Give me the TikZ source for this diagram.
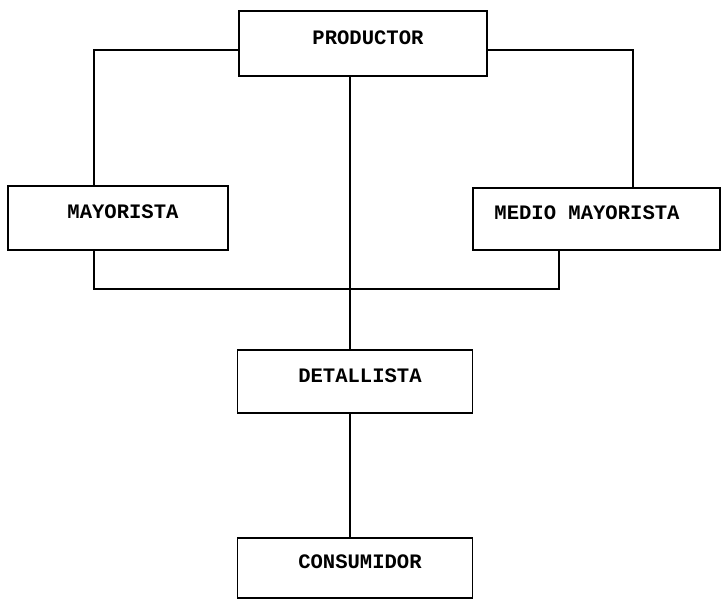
\documentclass[tikz,border=0pt]{standalone}
\usepackage{fontspec}
\newfontfamily\maquina{Liberation Mono}

\begin{document}
\begin{tikzpicture}[x=0.02cm,y=-0.02cm,-,line width=.9pt]
\tikzset{CajaStyle/.style = {draw,rectangle,line width=.9pt,
                             inner sep=0pt,text height=0.23cm,text depth=0.2cm,
                             execute at begin node=\hspace*{#1},
                             font=\maquina\bfseries\fontsize{11.7}{12}\selectfont},
         CajaStyle/.default=0.2cm}
\useasboundingbox (0,0) rectangle (722,600);
\node[CajaStyle,minimum width=248*0.02cm,minimum height=65*0.02cm] (productor)  at (363,43.5)  {PRODUCTOR};
\node[CajaStyle,minimum width=220*0.02cm,minimum height=64*0.02cm] (mayorista)  at (118,218)   {MAYORISTA};
\node[CajaStyle=-0.38cm,minimum width=247*0.02cm,minimum height=62*0.02cm] (medio) at (596.5,219) {MEDIO MAYORISTA};
\node[CajaStyle,minimum width=235*0.02cm,minimum height=63*0.02cm] (detallista) at (355,381.5) {DETALLISTA};
\node[CajaStyle,minimum width=235*0.02cm,minimum height=60*0.02cm] (consumidor) at (355,568)   {CONSUMIDOR};

\draw ([yshift=-0.13cm]productor.west) -| ([xshift=-0.48cm]mayorista.north);
\draw ([yshift=-0.13cm]productor.east) -| ([xshift=0.73cm]medio.north);
\draw ([xshift=-0.48cm]mayorista.south) -- ++(0,38) -| ([xshift=-0.75cm]medio.south);
\draw ([xshift=-0.1cm]detallista.north) -- ([xshift=-0.1cm]detallista.north |- productor.south);
\draw ([xshift=-0.1cm]detallista.south) -- ([xshift=-0.1cm]consumidor.north);
\end{tikzpicture}
\end{document}
